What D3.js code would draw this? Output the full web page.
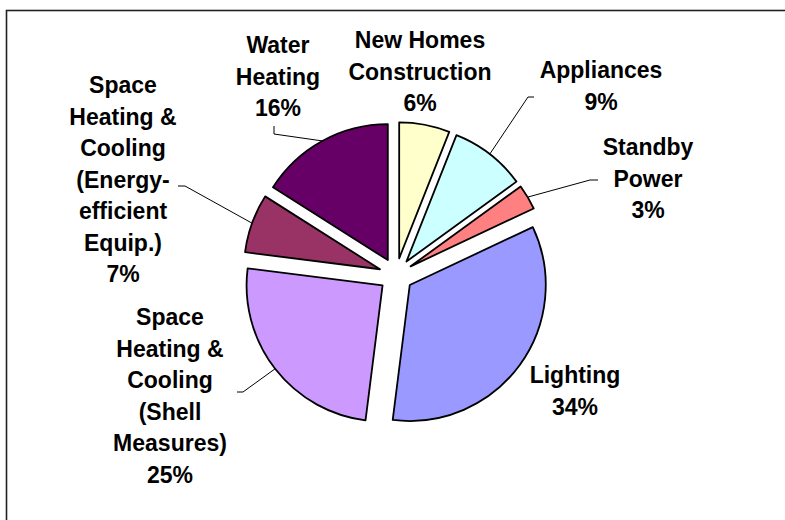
<!DOCTYPE html>
<html>
<head>
<meta charset="utf-8">
<script src="https://cdn.jsdelivr.net/npm/d3@7"></script>
<style>
  html, body { margin: 0; padding: 0; background: #fff; }
  svg { display: block; }
  text { font-family: "Liberation Sans", Arial, sans-serif; font-weight: bold; font-size: 23px; fill: #000; }
</style>
</head>
<body>
<svg id="chart" width="785" height="520"></svg>
<script>
// Residential savings potential by end use (share of total, %)
const categories = [
  "New Homes Construction",
  "Appliances",
  "Standby Power",
  "Lighting",
  "Space Heating & Cooling (Shell Measures)",
  "Space Heating & Cooling (Energy-efficient Equip.)",
  "Water Heating"
];
const values = [6, 9, 3, 34, 25, 7, 16];
const colors = ["#FFFFCC", "#CCFFFF", "#FF8080", "#9999FF", "#CC99FF", "#993366", "#660066"];

// How each category label wraps onto lines
const labelLines = [
  ["New Homes", "Construction"],
  ["Appliances"],
  ["Standby", "Power"],
  ["Lighting"],
  ["Space", "Heating &", "Cooling", "(Shell", "Measures)"],
  ["Space", "Heating &", "Cooling", "(Energy-", "efficient", "Equip.)"],
  ["Water", "Heating"]
];

// Label placement (centre x, first baseline y) and leader-line bends
const labelPos = [
  { x: 420, y: 48,  leader: null },
  { x: 601, y: 78,  leader: [[528, 97], [534, 97]] },
  { x: 648, y: 155, leader: [[590, 180], [598, 180]] },
  { x: 575, y: 383, leader: null },
  { x: 170, y: 325, leader: [[243, 392], [237, 392]] },
  { x: 123, y: 93,  leader: [[185, 186], [178, 186]] },
  { x: 278, y: 53,  leader: [[274, 134], [274, 126]] }
];

const cx = 396, cy = 275, radius = 136, explode = 17, lineH = 31.5;

const svg = d3.select("#chart");

// chart frame (runs off the right and bottom edges)
svg.append("rect")
  .attr("x", 6.5).attr("y", 10.5)
  .attr("width", 900).attr("height", 700)
  .attr("fill", "none").attr("stroke", "#222").attr("stroke-width", 1.6);

const pie = d3.pie().sort(null).value(d => d)(values);
const arc = d3.arc().innerRadius(0).outerRadius(radius);
const edgeArc = d3.arc().innerRadius(radius).outerRadius(radius);

const offset = d => {
  const a = (d.startAngle + d.endAngle) / 2;
  return [explode * Math.sin(a), -explode * Math.cos(a)];
};

const g = svg.append("g").attr("transform", `translate(${cx},${cy})`);

g.selectAll("path.slice")
  .data(pie)
  .join("path")
  .attr("class", "slice")
  .attr("transform", d => `translate(${offset(d)})`)
  .attr("d", arc)
  .attr("fill", (d, i) => colors[i])
  .attr("stroke", "#000")
  .attr("stroke-width", 1.8)
  .attr("stroke-linejoin", "round");

// leader lines from the middle of each slice's rim to its label
pie.forEach((d, i) => {
  const lp = labelPos[i];
  if (!lp.leader) return;
  const [ox, oy] = offset(d);
  const [ex, ey] = edgeArc.centroid(d);
  const pts = [[cx + ox + ex, cy + oy + ey], ...lp.leader];
  svg.append("path")
    .attr("d", d3.line()(pts))
    .attr("fill", "none")
    .attr("stroke", "#000")
    .attr("stroke-width", 1);
});

// category labels with their percentages
pie.forEach((d, i) => {
  const lp = labelPos[i];
  const lines = [...labelLines[i], `${values[i]}%`];
  const t = svg.append("text").attr("text-anchor", "middle");
  lines.forEach((s, k) => {
    t.append("tspan").attr("x", lp.x).attr("y", lp.y + k * lineH).text(s);
  });
});
</script>
</body>
</html>
